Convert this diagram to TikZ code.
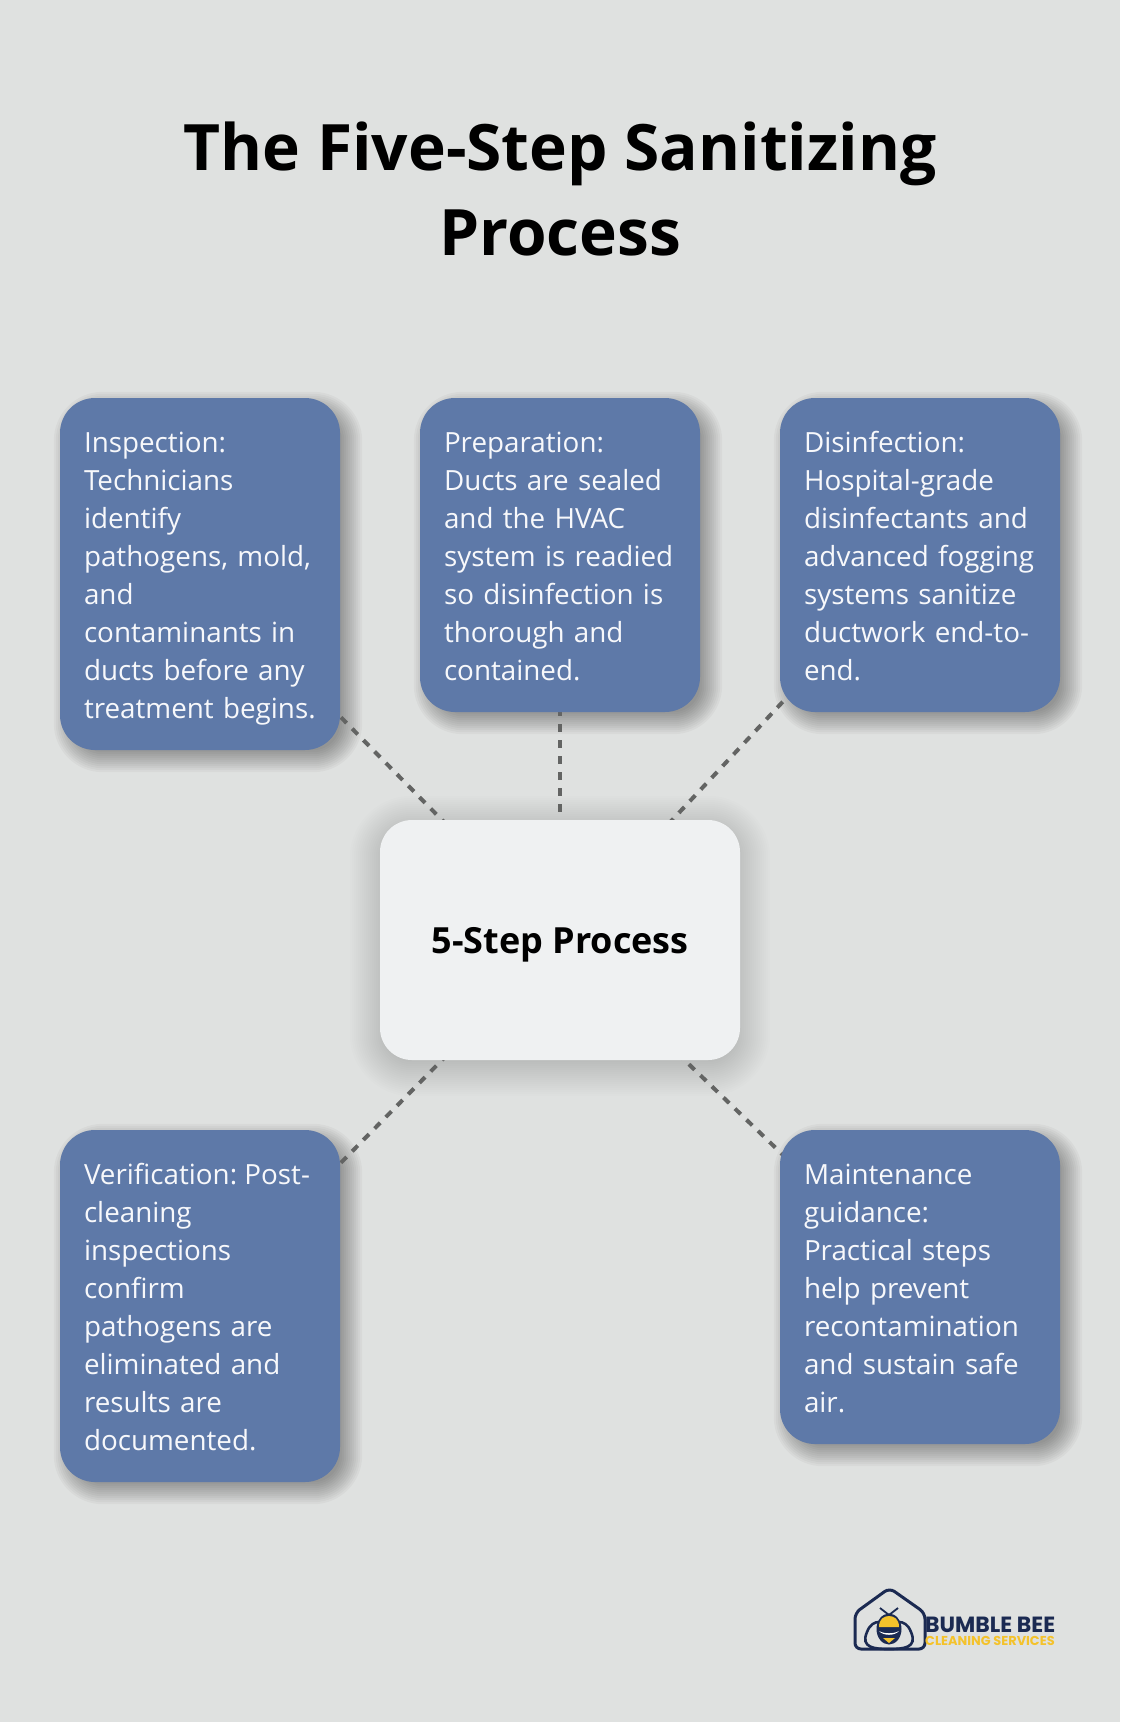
\documentclass[tikz,border=0pt]{standalone}
\usepackage{xcolor}
\usepackage{fontspec}
\setmainfont{Open Sans}
\newfontfamily\logofont{Poppins}
\usetikzlibrary{positioning,backgrounds,calc}
\definecolor{pagegray}{HTML}{DFE1E0}
\definecolor{stepblue}{HTML}{5E79A8}
\definecolor{hubwhite}{HTML}{EFF1F2}
\definecolor{dashgray}{HTML}{636463}
\definecolor{beenavy}{HTML}{1B2A52}
\definecolor{beeyellow}{HTML}{F4C22B}
\tikzset{
    stepbox/.style={fill=stepblue, rounded corners=35pt, minimum width=280pt, text width=232pt, inner sep=0pt, align=left, text=white!95!stepblue,
        font=\fontsize{27.8}{38}\selectfont, execute at begin node={\rule[-8pt]{0pt}{38pt}}, execute at end node={\rule[-8pt]{0pt}{38pt}}},
    hubbox/.style={fill=hubwhite, rounded corners=32pt, minimum width=360pt, minimum height=240pt, inner sep=0pt, text height=34pt, text depth=8pt,
        font=\fontsize{36}{40}\selectfont\bfseries},
    spoke/.style={draw=dashgray, line width=4pt, dash pattern=on 8pt off 8pt, dash phase=7pt},
}
\begin{document}
\begin{tikzpicture}[x=1pt,y=-1pt]
    \useasboundingbox (0,0) rectangle (1120,1722);

    % Title
    \node[align=center, font=\fontsize{64}{85}\selectfont\bfseries] (title) at (560,189) {The Five-Step Sanitizing\\Process};

    % Centre
    \node[hubbox] (hub) at (560,940) {5-Step Process};

    % Steps
    \node[stepbox, minimum height=352pt] (inspection) at (200,574) {Inspection:\\Technicians\\identify\\pathogens, mold,\\and\\contaminants in\\ducts before any\\treatment begins.};
    \node[stepbox, minimum height=314pt] (preparation) at (560,555) {Preparation:\\Ducts are sealed\\and the HVAC\\system is readied\\so disinfection is\\thorough and\\contained.};
    \node[stepbox, minimum height=314pt] (disinfection) at (920,555) {Disinfection:\\Hospital-grade\\disinfectants and\\advanced fogging\\systems sanitize\\ductwork end-to-\\end.};
    \node[stepbox, minimum height=352pt] (verification) at (200,1306) {\mbox{Verification:\kern-2pt\ Post-}\\cleaning\\inspections\\confirm\\pathogens are\\eliminated and\\results are\\documented.};
    \node[stepbox, minimum height=314pt] (maintenance) at (920,1287) {Maintenance\\guidance:\\Practical steps\\help prevent\\recontamination\\and sustain safe\\air.};

    % Page, soft shadows and dashed spokes
    \begin{scope}[on background layer]
        \fill[pagegray] (0,0) rectangle (1120,1722);
        \foreach \g in {-14,-12,...,30} {
            \fill[black, opacity=0.009, rounded corners={32pt+max(\g,-10)*1pt}] ($(hub.north west)+(-\g,6-\g)$) rectangle ($(hub.south east)+(\g,6+\g)$);
        }
        \foreach \step in {inspection,preparation,disinfection,verification,maintenance} {
            \foreach \g in {-8,-6,...,14} {
                \fill[black, opacity=0.03, rounded corners={35pt+\g*1pt}] ($(\step.north west)+(8-\g,8-\g)$) rectangle ($(\step.south east)+(8+\g,8+\g)$);
            }
            \draw[spoke] (\step.center) -- (hub.center);
        }
    \end{scope}

    % Logo
    \draw[beenavy, line width=3pt, rounded corners=6pt] (855,1613) -- (889.5,1588) -- (925,1613) -- (925,1649) -- (855,1649) -- cycle;
    \draw[beenavy, line width=2.6pt] (889,1649) .. controls (875,1649) and (860,1648) .. (867,1632) .. controls (870,1624) and (875,1622) .. (879,1622);
    \draw[beenavy, line width=2.6pt] (889,1649) .. controls (903,1649) and (918,1648) .. (911,1632) .. controls (908,1624) and (903,1622) .. (899,1622);
    \draw[beenavy, line width=1.8pt] (880,1608) -- (889,1615) -- (898,1608);
    \fill[beenavy] (889,1629) ellipse (12.5pt and 15.5pt);
    \fill[beeyellow] (879,1627) .. controls (879,1619) and (884,1616) .. (889,1616) .. controls (894,1616) and (899,1619) .. (899,1627) -- cycle;
    \fill[white] (879,1631) .. controls (884,1634) and (894,1634) .. (899,1631) .. controls (895,1636) and (883,1636) .. (879,1631) -- cycle;
    \fill[beeyellow] (883,1638) -- (895,1638) -- (889,1643) -- cycle;
    \node[anchor=west, inner sep=0pt, text=beenavy, font=\logofont\fontsize{22}{22}\selectfont\bfseries] (logoname) at (925,1625) {BUMBLE BEE};
    \node[anchor=west, inner sep=0pt, text=beeyellow, font=\logofont\fontsize{12.9}{13}\selectfont\bfseries] (logosub) at (925,1641) {CLEANING SERVICES};
\end{tikzpicture}
\end{document}
